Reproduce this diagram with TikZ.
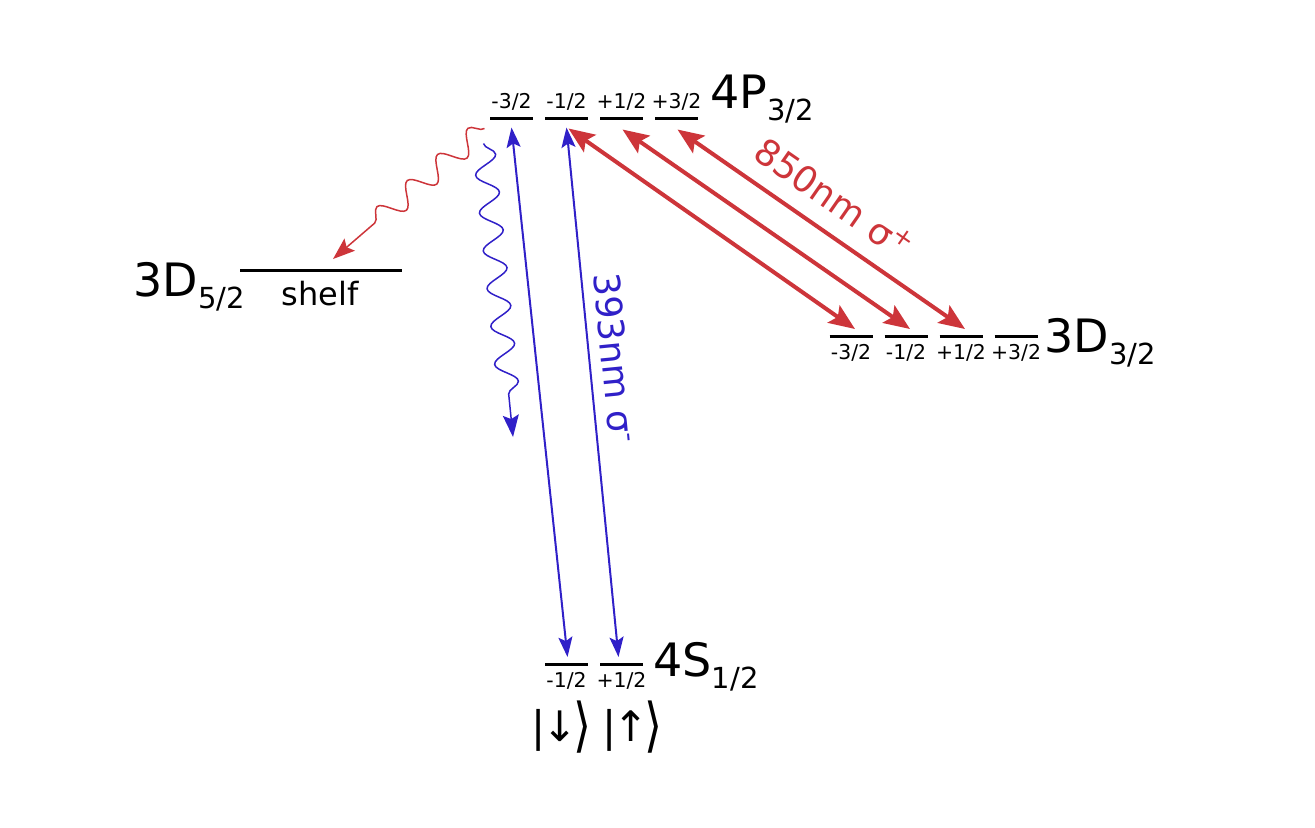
\RequirePackage{fix-cm}
\documentclass[tikz,border=0pt]{standalone}
\usepackage{fontspec}
\setmainfont{DejaVu Sans}
\usetikzlibrary{calc,arrows.meta,decorations.pathmorphing}

\definecolor{laserblue}{RGB}{48,32,200}
\definecolor{laserred}{RGB}{205,53,58}
\newcommand{\term}[2]{{\fontsize{23}{27}\selectfont #1}\raisebox{-6pt}{\fontsize{14.5}{17}\selectfont #2}}
\newcommand{\spinket}[1]{|\kern-1.5pt#1\kern-2pt\raisebox{-2pt}{\scalebox{1.1}[1.4]{⟩}}}

\tikzset{
  lev/.style={minimum width=21.5pt, minimum height=0pt, inner sep=0pt, outer sep=0pt},
  mj/.style={font=\fontsize{10.2}{12}\selectfont, inner sep=2pt},
  term/.style={anchor=base west, inner sep=0pt},
  blueline/.style={laserblue, line width=1pt, >={Stealth[length=10pt,width=7pt,inset=2pt]}, <->},
  redline/.style={laserred, line width=2pt, >={Stealth[length=13pt,width=10.5pt,inset=2.5pt]}, <->},
  wave/.style={decorate, decoration={snake, amplitude=5.5pt, segment length=19pt},
    line width=0.75pt, -{Stealth[length=11pt,width=8pt,inset=2pt]}}
}

\begin{document}
\begin{tikzpicture}[x=0.5pt,y=-0.5pt,label distance=2.3pt]
\useasboundingbox (0,0) rectangle (1315,827);
\begin{scope}[every node/.style={lev}, every label/.style={mj}]
    % 4P_{3/2}
    \node[label=above:-3/2] (Pa) at (511.5,118.5) {};
    \node[label=above:-1/2] (Pb) at (566.5,118.5) {};
    \node[label=above:+1/2] (Pc) at (621.5,118.5) {};
    \node[label=above:+3/2] (Pd) at (676.5,118.5) {};
    % 3D_{3/2}
    \node[label=below:-3/2] (Da) at (851,336) {};
    \node[label=below:-1/2] (Db) at (906,336) {};
    \node[label=below:+1/2] (Dc) at (961,336) {};
    \node[label=below:+3/2] (Dd) at (1016,336) {};
    % 4S_{1/2}
    \node[label=below:-1/2] (Sa) at (566.5,664) {};
    \node[label=below:+1/2] (Sb) at (621.5,664) {};
    % 3D_{5/2}
    \node[minimum width=81pt] (F) at (321,270) {};
\end{scope}
\foreach \n in {Pa,Pb,Pc,Pd,Da,Db,Dc,Dd,Sa,Sb,F}
    \draw[line width=1.5pt] (\n.west) -- (\n.east);

\node[term] (P) at (710,108) {\term{4P}{3/2}};
\node[term] (D) at (1044,352) {\term{3D}{3/2}};
\node[term] (S) at (653,676) {\term{4S}{1/2}};
\node[term] (L) at (133,296) {\term{3D}{5/2}};
\node[anchor=base, font=\fontsize{16}{19}\selectfont] (shelf) at (320,305) {shelf};
\node[font=\fontsize{21}{25}\selectfont, inner sep=0pt] (ket) at (597,727) {\spinket{↓}\hspace{5pt}\spinket{↑}};

% 393nm
\draw[blueline] ($(Pa)+(0,9)$) -- ($(Sa)+(1,-7)$);
\draw[blueline] ($(Pb)+(0,9)$) -- node[pos=0.44, sloped, above=2pt, text=laserblue, font=\fontsize{18}{21}\selectfont] {393nm σ\textsuperscript{-}} ($(Sb)+(-3,-7)$);

% 850nm
\draw[redline] ($(Pb)+(2,10)$) -- ($(Da)+(4,-7)$);
\draw[redline] ($(Pc)+(1,11)$) -- ($(Db)+(4,-7)$);
\draw[redline] ($(Pd)+(1,11)$) -- node[pos=0.48, sloped, above=5pt, text=laserred, font=\fontsize{18}{21}\selectfont] {850nm σ\textsuperscript{+}} ($(Dc)+(4,-7)$);

% decays
\coordinate (decay) at (513,437);
\draw[wave, laserred, decoration={amplitude=-5.5pt, segment length=20pt, post length=26pt}] ($(Pa)+(-27,10)$) -- ($(F)+(12,-11)$);
\draw[wave, laserblue, decoration={post length=15pt}] ($(Pa)+(-28,25)$) -- (decay);
\end{tikzpicture}
\end{document}
